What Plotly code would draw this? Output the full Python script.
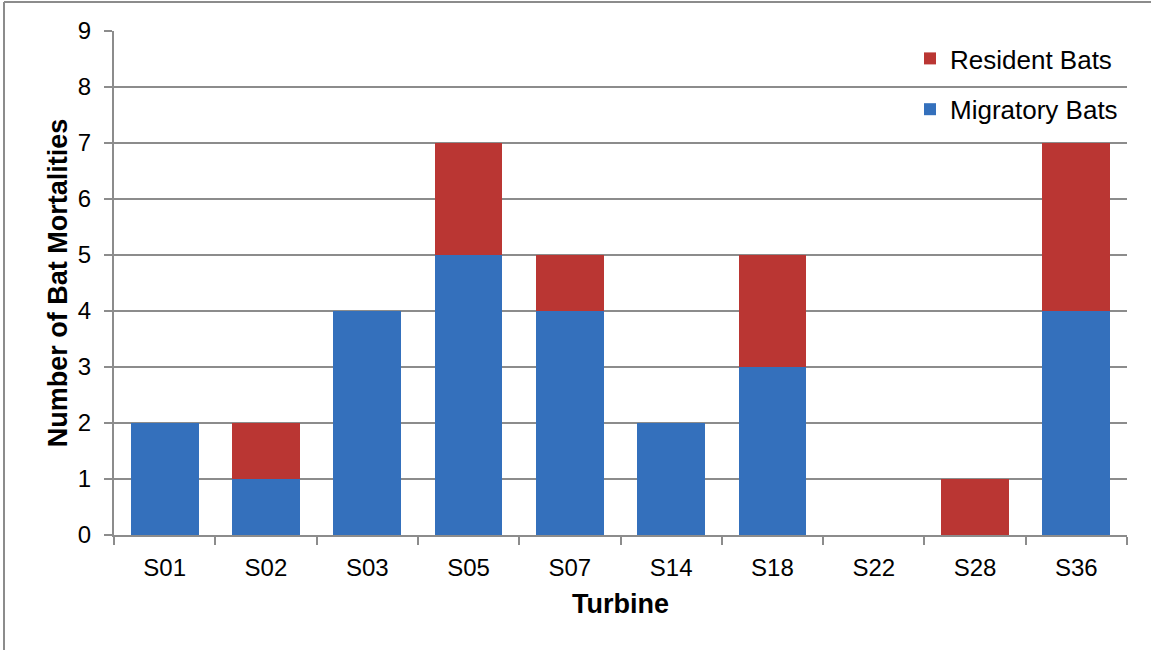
import plotly.graph_objects as go

turbines = ["S01", "S02", "S03", "S05", "S07", "S14", "S18", "S22", "S28", "S36"]
migratory = [2, 1, 4, 5, 4, 2, 3, 0, 0, 4]
resident = [0, 1, 0, 2, 1, 0, 2, 0, 1, 3]

FONT = "Liberation Sans, Arial, sans-serif"
L, R, T, B = 114, 24, 31, 115
W, H = 1151, 650
pw, ph = W - L - R, H - T - B

fig = go.Figure()
fig.add_trace(go.Bar(x=turbines, y=migratory, name="Migratory Bats",
                     marker=dict(color="#3470BC", line=dict(width=0)),
                     legendgroup="m", legendrank=2))
fig.add_trace(go.Bar(x=turbines, y=resident, name="Resident Bats",
                     marker=dict(color="#BA3633", line=dict(width=0)),
                     legendgroup="r", legendrank=1))

def px2x(px):
    return (px - L) / pw

def py2y(py):
    return (H - B - py) / ph

fig.update_layout(
    width=W, height=H,
    barmode="stack", bargap=0.33,
    margin=dict(l=L, r=R, t=T, b=B),
    paper_bgcolor="white", plot_bgcolor="white",
    font=dict(family=FONT, size=24, color="black"),
    showlegend=True,
    legend=dict(x=px2x(910), y=py2y(35), xanchor="left", yanchor="top",
                traceorder="grouped", tracegroupgap=14,
                font=dict(size=26), bgcolor="rgba(255,255,255,0)",
                itemwidth=30),
    xaxis=dict(
        title=dict(text="<b>Turbine</b>", font=dict(size=27), standoff=14),
        showline=True, linecolor="#8c8c8c", linewidth=2,
        ticks="outside", tickson="boundaries", ticklen=8, tickwidth=2,
        tickcolor="#8c8c8c", ticklabelstandoff=10,
        showgrid=False, tickfont=dict(size=24),
    ),
    yaxis=dict(
        title=dict(text="<b>Number of Bat Mortalities</b>", font=dict(size=27), standoff=2),
        range=[0, 9], dtick=1, tick0=0,
        showline=True, linecolor="#8c8c8c", linewidth=2,
        ticks="outside", ticklen=8, tickwidth=2, tickcolor="#8c8c8c",
        ticklabelstandoff=8,
        showgrid=True, gridcolor="#8c8c8c", gridwidth=2,
        zeroline=False, tickfont=dict(size=24),
    ),
    shapes=[
        dict(type="line", xref="paper", yref="paper",
             x0=px2x(4), x1=px2x(1200), y0=py2y(2), y1=py2y(2),
             line=dict(color="#8c8c8c", width=2)),
        dict(type="line", xref="paper", yref="paper",
             x0=px2x(4), x1=px2x(4), y0=py2y(2), y1=py2y(700),
             line=dict(color="#8c8c8c", width=2)),
    ],
)

fig.write_html("out.html")
